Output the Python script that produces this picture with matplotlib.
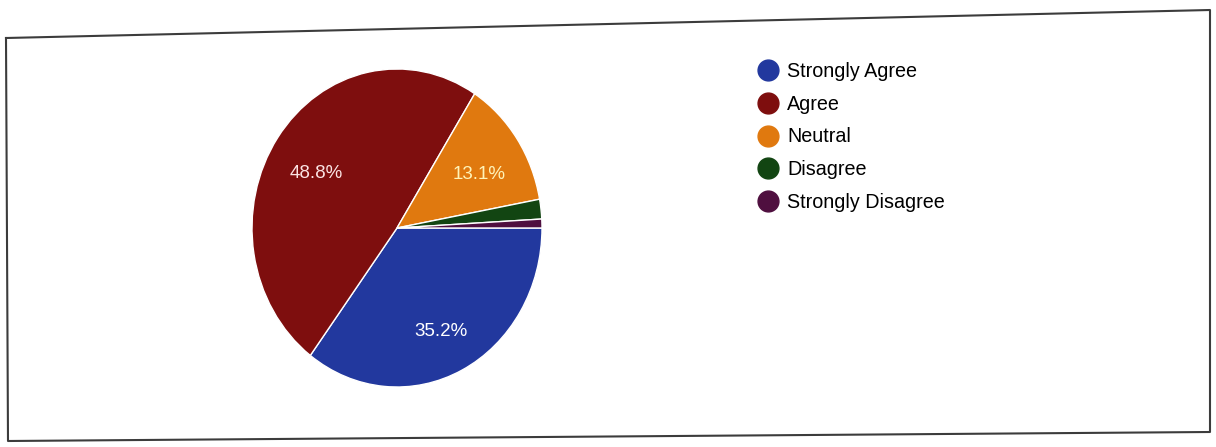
import matplotlib
matplotlib.use("Agg")
import matplotlib.pyplot as plt
from matplotlib.lines import Line2D

plt.rcParams["font.family"] = ["Liberation Sans", "DejaVu Sans"]

# data
categories = ["Strongly Agree", "Agree", "Neutral", "Disagree", "Strongly Disagree"]
shares = [35.2, 48.8, 13.1, 2.0, 0.9]
colors = ["#22389e", "#7e0e0e", "#e0790f", "#124512", "#4f0f3f"]
label_colors = ["white", "#fbe3e3", "#fff3b8", "white", "white"]

W, H = 1216, 447
fig = plt.figure(figsize=(W / 100, H / 100), dpi=100)
fig.patch.set_facecolor("white")

# photographed frame (slightly skewed)
frame_x = [6 / W, 1210 / W, 1210 / W, 8 / W, 6 / W]
frame_y = [1 - 38 / H, 1 - 10 / H, 1 - 432 / H, 1 - 441 / H, 1 - 38 / H]
fig.add_artist(Line2D(frame_x, frame_y, color="#3c3c3c", lw=1.5,
                      transform=fig.transFigure))

# pie: centre ~ (397, 228) px, radius ~ 145 x 159 px
cx, cy, rx, ry = 397, 228, 145, 159
ax = fig.add_axes([(cx - rx) / W, 1 - (cy + ry) / H, 2 * rx / W, 2 * ry / H])
wedges, texts, autotexts = ax.pie(
    shares, colors=colors, startangle=0, counterclock=False,
    autopct=lambda p: f"{p:.1f}%" if p > 5 else "",
    pctdistance=0.68,
    wedgeprops=dict(edgecolor="white", linewidth=1.0),
    textprops=dict(color="white", fontsize=13.5),
)
ax.set_xlim(-1, 1)
ax.set_ylim(-1, 1)
ax.set_aspect("auto")
ax.axis("off")
for t, c in zip(autotexts, label_colors):
    t.set_color(c)
    x, y = t.get_position()
    t.set_position((x, y - 0.045))

handles = [Line2D([], [], marker="o", linestyle="none", markersize=15,
                  markerfacecolor=c, markeredgecolor=c) for c in colors]
fig.legend(handles, categories, loc="upper left",
           bbox_to_anchor=(748 / W, 1 - 54 / H), frameon=False,
           fontsize=14.2, labelspacing=0.7, handletextpad=0.4,
           handlelength=1.2, borderaxespad=0)

fig.savefig("out.png", dpi=100, facecolor="white")
